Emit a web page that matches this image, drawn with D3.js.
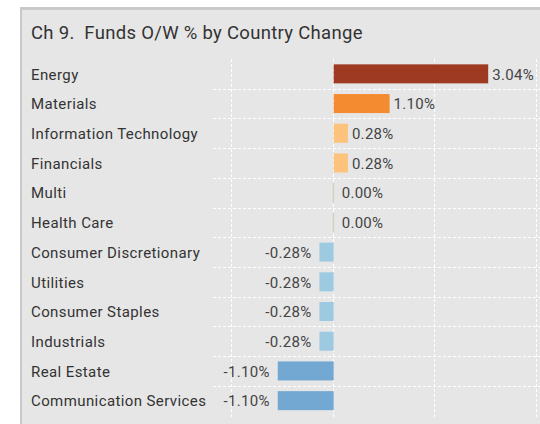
<!DOCTYPE html>
<html>
<head>
<meta charset="utf-8">
<script src="https://cdn.jsdelivr.net/npm/d3@7"></script>
<style>
  body { margin: 0; background: #fff; }
  svg { display: block; font-family: Roboto, "Noto Sans", sans-serif; }
  text { white-space: pre; }
</style>
</head>
<body>
<div id="chart"></div>
<script>
// data
const sectors = ["Energy", "Materials", "Information Technology", "Financials", "Multi",
  "Health Care", "Consumer Discretionary", "Utilities", "Consumer Staples", "Industrials",
  "Real Estate", "Communication Services"];
const changes = [3.04, 1.10, 0.28, 0.28, 0.00, 0.00, -0.28, -0.28, -0.28, -0.28, -1.10, -1.10];
const gridTicks = [-2, 0, 2, 4];

const width = 540, height = 424;

function barColor(v) {
  if (v >= 2) return "#9e3a22";
  if (v >= 1) return "#f58b31";
  if (v > 0) return "#fdc27b";
  if (v === 0) return "#d3cec2";
  if (v > -1) return "#9ecae1";
  return "#72a8d1";
}

const svg = d3.select("#chart").append("svg")
  .attr("width", width)
  .attr("height", height);

// grey panel with border on top/left
svg.append("rect")
  .attr("x", 20).attr("y", 8)
  .attr("width", width - 20).attr("height", height - 8)
  .attr("fill", "#e6e6e6");
svg.append("rect").attr("x", 20).attr("y", 7).attr("width", width - 20).attr("height", 3).attr("fill", "#c9c9c9");
svg.append("rect").attr("x", 20).attr("y", 7).attr("width", 2).attr("height", height - 7).attr("fill", "#c9c9c9");

svg.append("text")
  .attr("x", 31).attr("y", 39)
  .attr("font-size", 18.5)
  .attr("letter-spacing", 0.3)
  .attr("fill", "#333")
  .text("Ch 9.  Funds O/W % by Country Change");

const x = d3.scaleLinear().domain([-2, 4]).range([232, 537]);
const y = d3.scaleBand().domain(sectors).range([59, 415.5]).paddingInner(0.36).paddingOuter(0.18);
const step = y.step();

// grid
const grid = svg.append("g")
  .attr("stroke", "#fff")
  .attr("stroke-width", 1)
  .attr("stroke-dasharray", "3,2");

grid.selectAll("line.h")
  .data(sectors.slice(1))
  .join("line")
  .attr("class", "h")
  .attr("x1", 213).attr("x2", width)
  .attr("y1", d => Math.round(y(d) - step * 0.18) + 0.5)
  .attr("y2", d => Math.round(y(d) - step * 0.18) + 0.5);

grid.selectAll("line.v")
  .data(gridTicks)
  .join("line")
  .attr("class", "v")
  .attr("x1", d => Math.round(x(d)) - 0.5).attr("x2", d => Math.round(x(d)) - 0.5)
  .attr("y1", 59).attr("y2", 417);

// bars
const rows = sectors.map((s, i) => ({ name: s, value: changes[i] }));

svg.append("g").selectAll("rect")
  .data(rows)
  .join("rect")
  .attr("x", d => d.value === 0 ? x(0) - 1 : Math.min(x(0), x(d.value)))
  .attr("y", d => y(d.name))
  .attr("width", d => d.value === 0 ? 1.5 : Math.abs(x(d.value) - x(0)))
  .attr("height", y.bandwidth())
  .attr("fill", d => barColor(d.value));

// category labels
svg.append("g").selectAll("text")
  .data(rows)
  .join("text")
  .attr("x", 31)
  .attr("y", d => y(d.name) + y.bandwidth() / 2)
  .attr("dy", "0.38em")
  .attr("font-size", 15)
  .attr("letter-spacing", 0.4)
  .attr("fill", "#333")
  .text(d => d.name);

// value labels
svg.append("g").selectAll("text")
  .data(rows)
  .join("text")
  .attr("x", d => d.value < 0 ? x(d.value) - 8 : (d.value === 0 ? x(0) + 8 : x(d.value) + 4))
  .attr("y", d => y(d.name) + y.bandwidth() / 2)
  .attr("dy", "0.38em")
  .attr("text-anchor", d => d.value < 0 ? "end" : "start")
  .attr("font-size", 15)
  .attr("letter-spacing", 0.3)
  .attr("fill", "#444")
  .text(d => d.value.toFixed(2) + "%");
</script>
</body>
</html>
